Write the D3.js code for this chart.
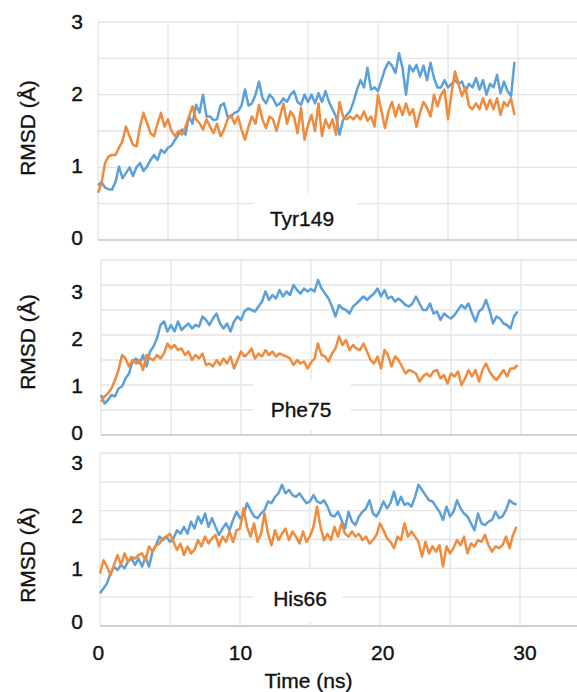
<!DOCTYPE html>
<html>
<head>
<meta charset="utf-8">
<script src="https://cdn.jsdelivr.net/npm/d3@7"></script>
<style>
    body { margin: 0; background: #fff; }
    svg { display: block; font-family: "Liberation Sans", Arial, sans-serif; }
    svg text { fill: #111; stroke: #111; stroke-width: 0.35px; }
</style>
</head>
<body>
<svg id="rmsd_chart" width="577" height="692"></svg>
<script>
// sampling step of the trajectories (ns)
const STEP_NS = 0.25
const xTickValues = [0, 10, 20, 30]
const yTickValues = [0, 1, 2, 3]
const residues = ["Tyr149", "Phe75", "His66"]

// values, one row = 2 ns
const tyr149Blue = [
    0.75, 0.8, 0.72, 0.7, 0.69, 0.8, 1.01, 0.85,
    0.92, 1.0, 0.88, 1.0, 1.06, 0.95, 1.01, 1.1,
    1.17, 1.1, 1.24, 1.2, 1.27, 1.3, 1.38, 1.45,
    1.52, 1.45, 1.7, 1.6, 1.86, 1.75, 2.0, 1.7,
    1.7, 1.65, 1.66, 1.85, 1.88, 1.7, 1.7, 1.75,
    1.77, 1.85, 2.07, 1.85, 1.88, 2.0, 2.18, 1.95,
    1.88, 2.0, 1.95, 1.85, 1.88, 1.95, 1.9, 2.0,
    2.05, 1.9, 1.86, 2.0, 1.9, 2.0, 1.88, 2.02,
    1.9, 2.05, 1.9, 1.8, 1.7, 1.45, 1.65, 1.72,
    1.77, 1.9, 2.07, 2.2, 2.1, 2.37, 2.07, 2.1,
    2.05, 2.2, 2.35, 2.45, 2.4, 2.3, 2.57, 2.37,
    2.0, 2.4, 2.32, 2.41, 2.25, 2.4, 2.2, 2.44,
    2.23, 2.1, 2.1, 2.2, 2.1, 2.15, 2.2, 2.15,
    2.18, 2.05, 2.15, 2.1, 2.23, 2.07, 2.2, 2.0,
    2.15, 2.1, 2.27, 2.02, 2.18, 2.05, 1.98, 2.45
]
const tyr149Orange = [
    0.65, 0.78, 1.06, 1.15, 1.17, 1.17, 1.27, 1.36,
    1.56, 1.43, 1.31, 1.29, 1.56, 1.75, 1.61, 1.47,
    1.43, 1.6, 1.75, 1.56, 1.66, 1.5, 1.43, 1.5,
    1.45, 1.56, 1.7, 1.84, 1.66, 1.61, 1.52, 1.66,
    1.56, 1.47, 1.6, 1.43, 1.52, 1.66, 1.72, 1.6,
    1.7, 1.52, 1.38, 1.56, 1.7, 1.6, 1.86, 1.66,
    1.54, 1.7, 1.66, 1.5, 1.7, 1.88, 1.6, 1.77,
    1.7, 1.47, 1.82, 1.38, 1.58, 1.72, 1.5, 1.88,
    1.43, 1.66, 1.54, 1.66, 1.45, 1.9, 1.7, 1.66,
    1.7, 1.66, 1.72, 1.66, 1.77, 1.64, 1.7, 1.56,
    2.0, 1.77, 1.54, 1.77, 1.9, 1.7, 1.86, 1.72,
    1.88, 1.72, 1.8, 1.56, 1.75, 1.9, 1.82, 1.7,
    2.0, 1.84, 2.0, 2.07, 1.66, 2.02, 2.32, 2.15,
    1.98, 2.1, 1.84, 1.8, 1.88, 1.8, 1.95, 1.8,
    1.93, 1.8, 1.95, 1.72, 1.9, 1.84, 1.95, 1.72
]
const phe75Blue = [
    0.8, 0.63, 0.7, 0.8, 0.77, 0.93, 0.97, 1.13,
    1.23, 1.47, 1.53, 1.43, 1.6, 1.37, 1.67, 1.77,
    1.93, 2.2, 2.27, 2.07, 2.2, 2.07, 2.27, 2.1,
    2.17, 2.23, 2.13, 2.2, 2.17, 2.37, 2.3, 2.2,
    2.33, 2.43, 2.23, 2.13, 2.23, 2.07, 2.27, 2.37,
    2.3, 2.47, 2.53, 2.5, 2.47, 2.57, 2.67, 2.87,
    2.7, 2.8, 2.73, 2.9, 2.77, 2.87, 2.8, 3.0,
    2.9, 2.83, 2.93, 2.87, 2.92, 2.87, 3.1, 2.93,
    2.83, 2.73, 2.57, 2.37, 2.6, 2.53, 2.5, 2.43,
    2.57, 2.63, 2.7, 2.77, 2.7, 2.77, 2.83, 2.93,
    2.77, 2.9, 2.73, 2.77, 2.67, 2.73, 2.67, 2.6,
    2.57, 2.63, 2.77, 2.63, 2.5, 2.5, 2.63, 2.43,
    2.47, 2.3, 2.43, 2.37, 2.33, 2.4, 2.5, 2.6,
    2.53, 2.63, 2.43, 2.27, 2.47, 2.53, 2.7, 2.5,
    2.23, 2.37, 2.33, 2.23, 2.2, 2.13, 2.37, 2.47
]
const phe75Orange = [
    0.67, 0.77, 0.83, 0.93, 1.1, 1.3, 1.6, 1.53,
    1.37, 1.5, 1.43, 1.5, 1.3, 1.6, 1.53, 1.5,
    1.6, 1.53, 1.63, 1.83, 1.73, 1.8, 1.7, 1.73,
    1.6, 1.67, 1.5, 1.6, 1.53, 1.63, 1.4, 1.43,
    1.37, 1.5, 1.4, 1.53, 1.43, 1.57, 1.33, 1.5,
    1.67, 1.57, 1.63, 1.73, 1.53, 1.63, 1.57, 1.7,
    1.6, 1.67, 1.57, 1.63, 1.6, 1.57, 1.53, 1.4,
    1.5, 1.43, 1.47, 1.33, 1.45, 1.53, 1.83, 1.6,
    1.57, 1.47, 1.63, 1.73, 1.97, 1.8, 1.9, 1.7,
    1.8, 1.73, 1.7, 1.83, 1.67, 1.5, 1.43, 1.57,
    1.33, 1.7, 1.6, 1.37, 1.57, 1.5, 1.37, 1.23,
    1.3, 1.27, 1.23, 1.07, 1.17, 1.23, 1.17, 1.27,
    1.3, 1.13, 1.2, 1.03, 1.23, 1.17, 1.27, 1.0,
    1.13, 1.3, 1.17, 1.3, 1.07, 1.3, 1.43, 1.27,
    1.17, 1.1, 1.2, 1.3, 1.17, 1.33, 1.33, 1.4
]
const his66Blue = [
    0.57, 0.65, 0.74, 0.91, 1.03, 0.97, 1.06, 1.0,
    1.12, 1.17, 1.06, 1.17, 1.03, 1.2, 1.03, 1.29,
    1.4, 1.55, 1.49, 1.55, 1.46, 1.52, 1.66, 1.6,
    1.72, 1.6, 1.81, 1.69, 1.9, 1.78, 1.95, 1.72,
    1.87, 1.72, 1.58, 1.69, 1.78, 1.66, 1.84, 1.98,
    1.87, 1.92, 2.13, 2.01, 1.9, 1.87, 1.95, 2.01,
    2.16, 2.13, 2.24, 2.3, 2.45, 2.3, 2.36, 2.27,
    2.24, 2.3, 2.21, 2.13, 2.16, 2.27, 2.16, 2.13,
    2.18, 2.07, 1.92, 1.9, 1.98, 1.84, 1.69, 1.98,
    1.81, 1.75, 1.9, 1.98, 2.04, 2.18, 1.95, 1.9,
    2.01, 2.16, 2.04, 2.13, 2.33, 2.1, 2.24, 2.1,
    2.13, 2.07, 2.24, 2.45, 2.36, 2.27, 2.18, 2.16,
    2.07, 1.98, 1.84, 2.07, 1.9, 1.98, 2.18, 2.04,
    1.95, 1.9, 1.78, 1.66, 1.95, 1.78, 1.75, 1.81,
    1.84, 1.98, 1.87, 1.9, 2.01, 2.18, 2.13, 2.1
]
const his66Orange = [
    0.91, 1.14, 1.03, 0.88, 1.06, 1.23, 1.06, 1.26,
    1.12, 1.2, 1.17, 1.23, 1.26, 1.14, 1.38, 1.29,
    1.4, 1.43, 1.52, 1.55, 1.6, 1.46, 1.32, 1.43,
    1.23, 1.38, 1.26, 1.32, 1.49, 1.38, 1.55, 1.43,
    1.52, 1.58, 1.38, 1.55, 1.46, 1.64, 1.46, 1.66,
    1.69, 2.04, 1.72, 1.55, 1.78, 1.46, 1.6, 1.95,
    1.6, 1.4, 1.66, 1.49, 1.6, 1.69, 1.49, 1.64,
    1.55, 1.43, 1.64, 1.46, 1.56, 1.72, 2.07, 1.72,
    1.49, 1.6, 1.49, 1.72, 1.55, 1.78, 1.6, 1.55,
    1.64, 1.55, 1.6, 1.49, 1.55, 1.43, 1.49, 1.58,
    1.78, 1.66, 1.52, 1.46, 1.35, 1.55, 1.49, 1.78,
    1.55, 1.64, 1.55, 1.46, 1.2, 1.46, 1.26, 1.38,
    1.29, 1.4, 1.03, 1.38, 1.26, 1.35, 1.49, 1.4,
    1.55, 1.26, 1.43, 1.38, 1.49, 1.46, 1.58, 1.4,
    1.29, 1.38, 1.35, 1.4, 1.55, 1.35, 1.58, 1.72
]

const blueSeries = [tyr149Blue, phe75Blue, his66Blue]
const orangeSeries = [tyr149Orange, phe75Orange, his66Orange]

const BLUE = "#5ba0da", ORANGE = "#f08a3c"
const GRID = "#e3e3e3"
const FONT_SIZE = 21
const X_MAX = 35, PX_PER_NS = 14

// pixel layout of the three stacked panels
const panelLayout = [
    { left: 98, top: 22, bottom: 240, yMax: 3, tickTop: 22, tickBottom: 238, titleY: 128,
      box: { x: 253, y: 193, w: 104, h: 45 }, nameX: 302, nameY: 226 },
    { left: 101, top: 260, bottom: 435, yMax: 3.5, tickTop: 292, tickBottom: 433, titleY: 342,
      box: { x: 253, y: 380, w: 98, h: 50 }, nameX: 301, nameY: 417 },
    { left: 100, top: 453, bottom: 626, yMax: 3, tickTop: 463, tickBottom: 622, titleY: 555,
      box: { x: 253, y: 569, w: 89, h: 53 }, nameX: 300, nameY: 606 }
]

const svg = d3.select("#rmsd_chart")

function drawPanel(layout, i) {
    const g = svg.append("g")

    const xRange = d3.scaleLinear()
        .domain([0, X_MAX])
        .range([layout.left, layout.left + X_MAX * PX_PER_NS])
    const yRange = d3.scaleLinear()
        .domain([0, layout.yMax])
        .range([layout.bottom, layout.top])

    // gridlines every 0.5 A and every 5 ns
    g.selectAll(".hgrid")
        .data(d3.range(0.5, layout.yMax + 0.01, 0.5))
        .enter()
        .append("line")
        .attr("x1", layout.left).attr("x2", 577)
        .attr("y1", d => yRange(d)).attr("y2", d => yRange(d))
        .attr("stroke", GRID)
        .attr("stroke-width", 1.3)

    g.selectAll(".vgrid")
        .data(d3.range(0, X_MAX + 1, 5))
        .enter()
        .append("line")
        .attr("x1", d => xRange(d)).attr("x2", d => xRange(d))
        .attr("y1", yRange(layout.yMax)).attr("y2", yRange(0))
        .attr("stroke", GRID)
        .attr("stroke-width", 1.3)

    g.append("line")
        .attr("x1", layout.left).attr("x2", 577)
        .attr("y1", yRange(0)).attr("y2", yRange(0))
        .attr("stroke", "#d2d2d2")
        .attr("stroke-width", 2)

    // white box behind the residue name
    g.append("rect")
        .attr("x", layout.box.x).attr("y", layout.box.y)
        .attr("width", layout.box.w).attr("height", layout.box.h)
        .attr("fill", "#fff")

    const line = d3.line()
        .x((d, j) => xRange(j * STEP_NS))
        .y(d => yRange(d))

    g.append("path")
        .datum(blueSeries[i])
        .attr("d", line)
        .attr("fill", "none")
        .attr("stroke", BLUE)
        .attr("stroke-width", 2.5)
        .attr("stroke-linejoin", "round")

    g.append("path")
        .datum(orangeSeries[i])
        .attr("d", line)
        .attr("fill", "none")
        .attr("stroke", ORANGE)
        .attr("stroke-width", 2.5)
        .attr("stroke-linejoin", "round")

    // tick labels sit a little off the gridlines in the original
    const tickRange = d3.scaleLinear()
        .domain([0, 3])
        .range([layout.tickBottom, layout.tickTop])

    g.selectAll(".ytick")
        .data(yTickValues)
        .enter()
        .append("text")
        .attr("x", 83)
        .attr("y", d => tickRange(d))
        .attr("dy", "0.35em")
        .attr("text-anchor", "end")
        .attr("font-size", FONT_SIZE)
        .text(d => d)

    g.append("text")
        .attr("transform", "translate(35," + layout.titleY + ") rotate(-90)")
        .attr("text-anchor", "middle")
        .attr("font-size", FONT_SIZE)
        .text("RMSD (Å)")

    g.append("text")
        .attr("x", layout.nameX)
        .attr("y", layout.nameY)
        .attr("text-anchor", "middle")
        .attr("font-size", FONT_SIZE)
        .text(residues[i])
}

panelLayout.forEach(drawPanel)

// shared time axis under the last panel
const xLabelRange = d3.scaleLinear()
    .domain([0, 30])
    .range([98.3, 525])

svg.selectAll(".xtick")
    .data(xTickValues)
    .enter()
    .append("text")
    .attr("x", d => xLabelRange(d))
    .attr("y", 660)
    .attr("text-anchor", "middle")
    .attr("font-size", FONT_SIZE)
    .text(d => d)

svg.append("text")
    .attr("x", 308.5)
    .attr("y", 688)
    .attr("text-anchor", "middle")
    .attr("font-size", FONT_SIZE)
    .text("Time (ns)")
</script>
</body>
</html>
